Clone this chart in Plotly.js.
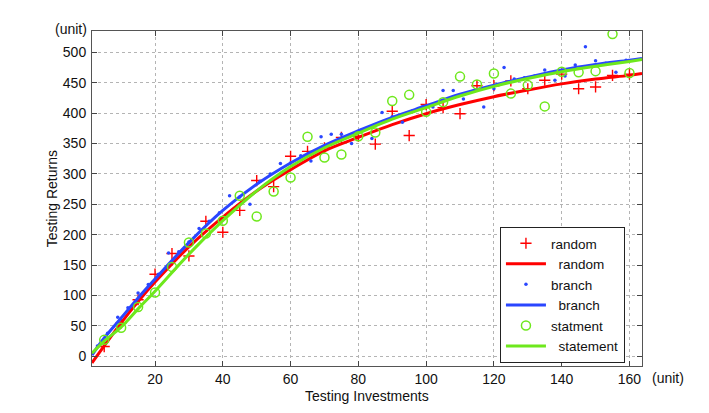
<!DOCTYPE html>
<html>
<head>
<meta charset="utf-8">
<script src="https://cdn.plot.ly/plotly-3.0.1.min.js"></script>
<style>
  html, body { margin: 0; padding: 0; background: #fff; }
  #chart { width: 709px; height: 413px; }
</style>
</head>
<body>
<div id="chart"></div>
<script>
// sampled points (x = testing investments, y = testing returns)
const randomX = [5, 10, 15, 20, 25, 30, 35, 40, 45, 50, 55, 60, 65, 70, 75, 80,
  85, 90, 95, 100, 105, 110, 115, 120, 125, 130, 135, 140, 145, 150, 155, 160];
const randomY = [16, 55, 93, 135, 169, 165, 222, 204, 240, 289, 279, 329, 337, 343, 360, 362,
  349, 403, 363, 414, 409, 399, 445, 445, 453, 440, 454, 464, 440, 443, 462, 464];

const branchX = [3, 6, 9, 12, 15, 18, 21, 24, 27, 30, 33, 36, 39, 42, 45, 48, 51, 54,
  57, 60, 63, 66, 69, 72, 75, 78, 81, 84, 87, 90, 93, 96, 99, 102, 105, 108,
  111, 114, 117, 120, 123, 126, 129, 132, 135, 138, 141, 144, 147, 150, 153, 156, 159];
const branchY = [17, 38, 64, 80, 104, 118, 135, 170, 172, 188, 210, 222, 236, 264, 262, 250, 288, 300,
  317, 318, 330, 321, 361, 365, 365, 350, 372, 358, 401, 394, 385, 404, 411, 410, 437, 437,
  423, 436, 410, 440, 475, 456, 458, 461, 471, 454, 461, 479, 509, 486, 482, 467, 487];

const statmentX = randomX;
const statmentY = [27, 47, 81, 105, 147, 187, 202, 223, 264, 230, 271, 294, 361, 327, 332, 362,
  368, 420, 430, 402, 418, 460, 447, 465, 432, 446, 411, 468, 467, 469, 530, 466];

// fitted curves
const fitX = [1.4, 5, 10, 15, 20, 30, 40, 50, 60, 70, 80, 90, 100, 110, 120, 130, 140, 150, 160, 163.7];
const randomFit = [-11, 17, 55, 90, 122, 180, 229, 272, 307, 338, 360, 381, 399, 414, 427, 438, 448, 456, 462, 465];
const branchFit = [2, 30, 63, 96, 127, 187, 240, 283, 318, 347, 371, 393, 412, 431, 446, 459, 471, 480, 487, 490];
const statementFit = [5, 25, 48, 78, 107, 168, 223, 272, 312, 343, 367, 390, 409, 428, 444, 457, 468, 477, 485, 488];

const xTicks = [20, 40, 60, 80, 100, 120, 140, 160];
const yTicks = [0, 50, 100, 150, 200, 250, 300, 350, 400, 450, 500];

const RED = '#ff0000';
const BLUE = '#2a46ff';
const GREEN = '#6ee81c';
const FONT = 'Liberation Sans, Arial, sans-serif';
const NB = '\u00a0\u00a0';

const traces = [
  {
    x: randomX, y: randomY, type: 'scatter', mode: 'markers', name: 'random',
    marker: { symbol: 'cross-thin', size: 8, color: RED, line: { color: RED, width: 1.4 } },
  },
  {
    x: fitX, y: randomFit, type: 'scatter', mode: 'lines', name: NB + 'random',
    line: { color: RED, width: 3, shape: 'spline', smoothing: 1 },
  },
  {
    x: branchX, y: branchY, type: 'scatter', mode: 'markers', name: 'branch',
    marker: { symbol: 'circle', size: 3.5, color: BLUE },
  },
  {
    x: fitX, y: branchFit, type: 'scatter', mode: 'lines', name: NB + 'branch',
    line: { color: BLUE, width: 3, shape: 'spline', smoothing: 1 },
  },
  {
    x: statmentX, y: statmentY, type: 'scatter', mode: 'markers', name: 'statment',
    marker: { symbol: 'circle-open', size: 9, color: GREEN, line: { color: GREEN, width: 1.5 } },
  },
  {
    x: fitX, y: statementFit, type: 'scatter', mode: 'lines', name: NB + 'statement',
    line: { color: GREEN, width: 3, shape: 'spline', smoothing: 1 },
  },
];

const axisCommon = {
  showline: true, linecolor: '#555', linewidth: 1, mirror: 'ticks',
  ticks: 'inside', ticklen: 5, tickcolor: '#444', tickwidth: 1,
  showgrid: true, gridcolor: '#b4b4b4', griddash: 'dot', gridwidth: 1,
  zeroline: false, tickfont: { size: 14, color: '#111', family: FONT },
};

const layout = {
  width: 709, height: 413,
  paper_bgcolor: '#fff', plot_bgcolor: '#fff',
  font: { family: FONT, size: 14, color: '#111' },
  margin: { l: 92, r: 67, t: 31, b: 47 },
  xaxis: { ...axisCommon, range: [1.4, 163.7], tickvals: xTicks, ticklabelstandoff: 0 },
  yaxis: { ...axisCommon, range: [-16, 535], tickvals: yTicks, ticklabelstandoff: 2 },
  showlegend: true,
  legend: {
    x: 0.969, xanchor: 'right', y: 0.009, yanchor: 'bottom',
    bgcolor: '#fff', bordercolor: '#222', borderwidth: 1,
    font: { size: 13.5, family: FONT, color: '#111' },
    tracegroupgap: 0, itemwidth: 40,
  },
  annotations: [
    { text: 'Testing Investments', xref: 'paper', yref: 'paper', x: 0.5, y: -0.09,
      xanchor: 'center', yanchor: 'middle', showarrow: false, font: { size: 14 } },
    { text: 'Testing Returns', xref: 'paper', yref: 'paper', x: -0.073, y: 0.5, textangle: -90,
      xanchor: 'center', yanchor: 'middle', showarrow: false, font: { size: 14 } },
    { text: '(unit)', xref: 'paper', yref: 'paper', x: -0.005, y: 1.005,
      xanchor: 'right', yanchor: 'middle', showarrow: false, font: { size: 14 } },
    { text: '(unit)', xref: 'paper', yref: 'paper', x: 1.015, y: -0.036,
      xanchor: 'left', yanchor: 'middle', showarrow: false, font: { size: 14 } },
  ],
};

Plotly.newPlot('chart', traces, layout, { displayModeBar: false, responsive: false });
</script>
</body>
</html>
